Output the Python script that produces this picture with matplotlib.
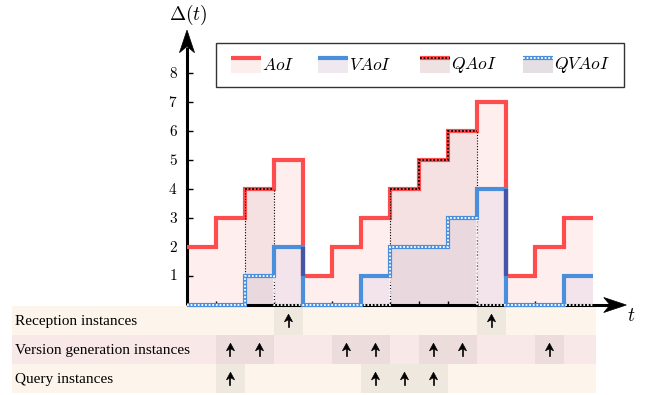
import numpy as np
import matplotlib
matplotlib.use("Agg")
import matplotlib.pyplot as plt
from matplotlib.patches import Polygon, Rectangle

plt.rcParams["mathtext.fontset"] = "cm"

# step values on unit slots 0..14
aoi = [2, 3, 4, 5, 1, 2, 3, 4, 5, 6, 7, 1, 2, 3]
vaoi = [0, 0, 1, 2, 0, 0, 1, 2, 2, 3, 4, 0, 0, 1]
query_on = [0, 0, 1, 0, 0, 0, 0, 1, 1, 1, 0, 0, 0, 0]

legend_names = ["AoI", "VAoI", "QAoI", "QVAoI"]
y_ticks = [1, 2, 3, 4, 5, 6, 7, 8]

row_names = ["Reception instances", "Version generation instances", "Query instances"]
reception_times = [3.5, 10.5]
version_times = [1.5, 2.5, 5.5, 6.5, 8.5, 9.5, 12.5]
query_times = [1.5, 6.5, 7.5, 8.5]

RED = "#ff4d4d"
BLUE = "#4a8fdc"
NAVY = "#4656a6"


def stealth(ax, tip, direction, length, half_width, z=7):
    tx, ty = tip
    dx, dy = direction
    px, py = -dy, dx
    bx, by = tx - dx * length, ty - dy * length
    nx, ny = tx - dx * length * 0.72, ty - dy * length * 0.72
    pts = [(tx, ty), (bx + px * half_width, by + py * half_width), (nx, ny),
           (bx - px * half_width, by - py * half_width)]
    ax.add_patch(Polygon(pts, closed=True, facecolor="k", edgecolor="k", lw=0.5, zorder=z))


def runs(mask):
    out, start = [], None
    for i, m in enumerate(list(mask) + [0]):
        if m and start is None:
            start = i
        if not m and start is not None:
            out.append((start, i))
            start = None
    return out


def main():
    a = np.array(aoi)
    v = np.array(vaoi)
    m = np.array(query_on)
    edges = np.arange(len(a) + 1)
    qaoi = a * m
    qvaoi = v * m

    fig = plt.figure(figsize=(6.51, 3.95), dpi=100)
    ax = fig.add_axes([0, 0, 1, 1])
    unit = 29.0
    ax.set_xlim(-187 / unit, (651 - 187) / unit)
    ax.set_ylim(-90 / unit, 305 / unit)
    ax.axis("off")

    # fills
    ax.stairs(a, edges, fill=True, color="#ff0000", alpha=0.065, lw=0, zorder=1)
    ax.stairs(v, edges, fill=True, color="#3050b0", alpha=0.06, lw=0, zorder=1.1)
    ax.stairs(qaoi, edges, fill=True, color="#602020", alpha=0.06, lw=0, zorder=1.2)

    # ticks
    ax.vlines(edges[1:-1], 0, 0.14, colors="k", lw=1.0, zorder=1.5)
    ax.hlines(y_ticks, 0, 0.2, colors="k", lw=1.0, zorder=1.5)
    for k in y_ticks:
        ax.text(-0.48, k, f"${k}$", ha="center", va="center", fontsize=11)

    # axes with arrows
    ax.plot([0, 14.6], [0, 0], color="k", lw=2.2, zorder=2, solid_capstyle="butt")
    ax.plot([0, 0], [0, 8.9], color="k", lw=2.2, zorder=2, solid_capstyle="butt")
    stealth(ax, (15.15, 0), (1, 0), 0.78, 0.26)
    stealth(ax, (0, 9.48), (0, 1), 0.78, 0.26)
    ax.text(0.05, 10.0, r"$\Delta(t)$", ha="center", va="center", fontsize=14)
    ax.text(15.31, -0.36, r"$t$", ha="center", va="center", fontsize=14)

    # lines
    ax.stairs(a, edges, baseline=None, color=RED, lw=3, zorder=3)
    for s, e in runs(m):
        ax.stairs(a[s:e], edges[s:e + 1], baseline=None, color="k", lw=1.3,
                  ls=(0, (1, 1)), zorder=3.5)
        ax.vlines([s, e], 0, [a[s], a[e - 1]], colors="k", lw=0.8,
                  linestyles=(0, (1, 1.5)), zorder=3.6)
    ax.stairs(v, edges, baseline=None, color=BLUE, lw=3, zorder=4)
    # where a red and a blue jump share the same edge, the overlap reads darker
    for i in range(1, len(a)):
        lo = max(min(a[i - 1], a[i]), min(v[i - 1], v[i]))
        hi = min(max(a[i - 1], a[i]), max(v[i - 1], v[i]))
        if hi > lo:
            ax.vlines(edges[i], lo, hi, colors=NAVY, lw=3, zorder=4.1)
    ax.stairs(qvaoi, edges, baseline=None, color="white", lw=1.3,
              ls=(0, (1, 1)), zorder=5)

    # legend
    ax.add_patch(Rectangle((1.0, 7.52), 14.07, 1.51, facecolor="white",
                           edgecolor="#333333", lw=1, zorder=6))
    leg_x = [1.52, 4.52, 8.05, 11.58]
    leg_fill = ["#fdeeee", "#efe9ef", "#efe2e2", "#e4dfe3"]
    leg_line = [RED, BLUE, RED, BLUE]
    leg_dot = [None, None, "k", "white"]
    for name, x0, fc, lc, dc in zip(legend_names, leg_x, leg_fill, leg_line, leg_dot):
        ax.add_patch(Rectangle((x0, 8.0), 1.03, 0.52, facecolor=fc, lw=0, zorder=6.5))
        ax.plot([x0, x0 + 1.03], [8.52, 8.52], color=lc, lw=3,
                solid_capstyle="butt", zorder=7)
        if dc:
            ax.plot([x0, x0 + 1.03], [8.52, 8.52], color=dc, lw=1.3,
                    ls=(0, (1, 1)), zorder=7.5)
        ax.text(x0 + 1.07, 8.28, f"${name}$", ha="left", va="center", fontsize=12.5,
                zorder=8)

    # instance table
    events = [reception_times, version_times, query_times]
    band = ["#fdf4eb", "#f9e8e8", "#fdf4eb"]
    dark = ["#efe8df", "#eddcdc", "#efe8df"]
    for i, (name, times) in enumerate(zip(row_names, events)):
        top = -0.03 - i
        ax.add_patch(Rectangle((-6.03, top - 1), 20.13, 1, facecolor=band[i], lw=0,
                               zorder=0))
        for t in times:
            ax.add_patch(Rectangle((t - 0.5, top - 1), 1, 1, facecolor=dark[i], lw=0,
                                   zorder=0.1))
            yc = top - 0.5
            ax.plot([t, t], [yc - 0.24, yc + 0.05], color="k", lw=1.2, zorder=1)
            stealth(ax, (t, yc + 0.21), (0, 1), 0.26, 0.14, z=1)
        ax.text(-5.93, top - 0.53, name, ha="left", va="center", fontsize=11,
                family="Liberation Serif", color="black")

    fig.savefig("out.png", dpi=100)


if __name__ == "__main__":
    main()
